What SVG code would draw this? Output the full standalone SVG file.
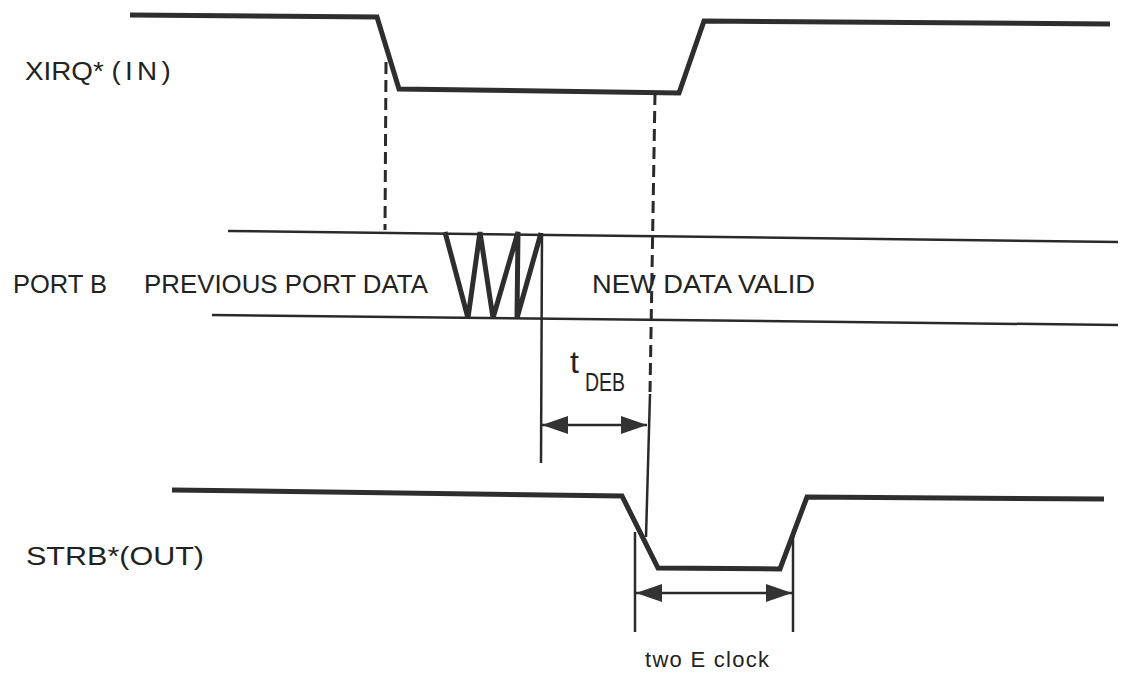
<svg xmlns="http://www.w3.org/2000/svg" width="1128" height="674" viewBox="0 0 1128 674">
<style>
.wave{fill:none;stroke:#2e2e2e;stroke-width:5;stroke-linejoin:miter}
.thin{fill:none;stroke:#2a2a2a;stroke-width:2.5}
.dash{fill:none;stroke:#2a2a2a;stroke-width:3;stroke-dasharray:12 6}
.lbl{font-family:"Liberation Sans",Arial,sans-serif;fill:#222}
</style>
<defs>
<marker id="ah" viewBox="0 0 26 20" refX="26" refY="10" markerWidth="26" markerHeight="20" markerUnits="userSpaceOnUse" orient="auto-start-reverse">
<path d="M0,1 L26,10 L0,19 Z" fill="#333"/>
</marker>
</defs>
<rect width="1128" height="674" fill="#fff"/>
<g id="xirq">
<polyline class="wave" points="130,15 377,17 399,89 679,93 704,21 1110,24"/>
<text class="lbl" x="25" y="80" font-size="26" textLength="150" lengthAdjust="spacingAndGlyphs">XIRQ* <tspan letter-spacing="4">(IN)</tspan></text>
</g>
<g id="portb">
<line class="thin" x1="228" y1="231" x2="1118" y2="242"/>
<line class="thin" x1="212" y1="315" x2="1118" y2="325"/>
<polyline class="wave" points="445,232 468,318 480,232 493,318 518,232 517,318 541,233"/>
<text class="lbl" x="13" y="293" font-size="25" textLength="94" lengthAdjust="spacingAndGlyphs">PORT B</text>
<text class="lbl" x="144" y="293" font-size="25" textLength="284" lengthAdjust="spacingAndGlyphs">PREVIOUS PORT DATA</text>
<text class="lbl" x="592" y="293" font-size="25" textLength="223" lengthAdjust="spacingAndGlyphs">NEW DATA VALID</text>
</g>
<g id="strb">
<polyline class="wave" points="172,490 622,496 658,568 780,569 807,497 1104,499"/>
<text class="lbl" x="26" y="565" font-size="26" textLength="178" lengthAdjust="spacingAndGlyphs">STRB*(OUT)</text>
</g>
<g id="tdeb">
<text class="lbl" x="570" y="373" font-size="32">t</text>
<text class="lbl" x="585" y="391" font-size="25" textLength="40" lengthAdjust="spacingAndGlyphs">DEB</text>
</g>
<g id="twoE">
<text class="lbl" x="645" y="667" font-size="22" textLength="124" lengthAdjust="spacing">two E clock</text>
</g>
<g id="connectors">
<line class="dash" x1="386" y1="62" x2="385" y2="230"/>
<line class="dash" x1="655" y1="93" x2="650" y2="392"/>
<line class="thin" x1="650" y1="394" x2="646" y2="537"/>
<line class="thin" x1="542" y1="233" x2="541" y2="463"/>
<line class="thin" x1="635" y1="532" x2="635" y2="632"/>
<line class="thin" x1="793" y1="536" x2="793" y2="632"/>
<line class="thin" x1="542" y1="425" x2="647" y2="425" marker-start="url(#ah)" marker-end="url(#ah)"/>
<line class="thin" x1="636" y1="593" x2="792" y2="593" marker-start="url(#ah)" marker-end="url(#ah)"/>
</g>
</svg>
